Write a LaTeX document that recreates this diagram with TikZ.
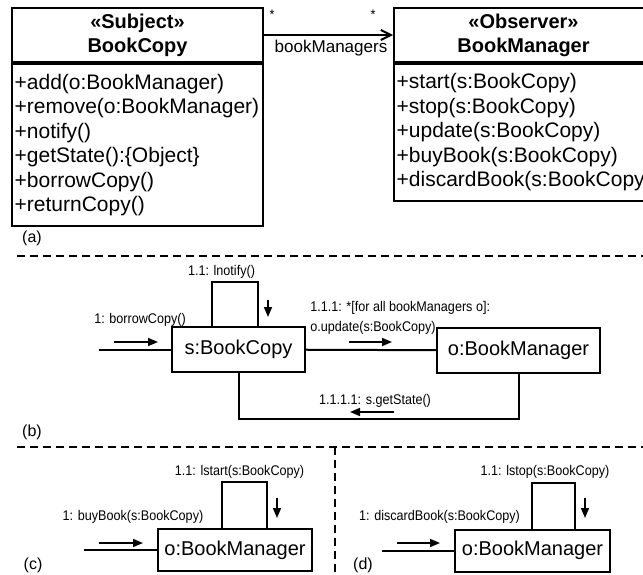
\documentclass[tikz,border=0pt]{standalone}
\usepackage{fontspec}
\setmainfont{Liberation Sans}
\newfontfamily\narrowfont[FakeStretch=0.9]{Liberation Sans}
\usetikzlibrary{arrows.meta}

\begin{document}
\begin{tikzpicture}[x=0.75pt,y=-0.75pt]
		\tikzset{classhead/.style = {draw, line width=1.5pt, anchor=north west, align=center, inner sep=0pt, minimum height=40.5pt, font=\fontsize{15}{18}\bfseries\selectfont},
			classbody/.style = {draw, line width=1.5pt, anchor=north west, align=left, inner xsep=2pt, inner ysep=0pt, font=\fontsize{15.75}{18.4}\selectfont},
			object/.style = {draw, line width=1.5pt, inner sep=0pt, font=\fontsize{15}{18}\selectfont},
			msg/.style = {inner sep=0pt, font=\fontsize{10.5}{15}\narrowfont},
			part/.style = {inner sep=0pt, font=\fontsize{12}{14}\selectfont},
			link/.style = {line width=1.5pt},
			flow/.style = {line width=1.2pt, -{Triangle[length=7.5pt, width=6pt]}},
			cut/.style = {line width=1.5pt, dash pattern=on 6pt off 3.75pt}}

		\useasboundingbox (0,0) rectangle (643,575);
		\clip (0,0) rectangle (643,575);

		% (a) class diagram
		\node[classhead, minimum width=188.25pt] (S_head) at (11,7) {«Subject»\\BookCopy};
		\node[classbody, minimum height=121.5pt, text width=184.25pt] (S_body) at (S_head.south west) {+add(o:BookManager)\\+remove(o:BookManager)\\+notify()\\+getState():\{Object\}\\+borrowCopy()\\+returnCopy()};
		\node[classhead, minimum width=194.25pt] (O_head) at (393,7) {«Observer»\\BookManager};
		\node[classbody, minimum height=102.75pt, text width=190.25pt] (O_body) at (O_head.south west) {+start(s:BookCopy)\\+stop(s:BookCopy)\\+update(s:BookCopy)\\+buyBook(s:BookCopy)\\+discardBook(s:BookCopy)};

		\draw[link, -{Straight Barb[length=7.5pt, width=7.5pt]}] (S_head.east) -- (O_head.west);
		\node[msg] (M_1) at (272,15) {*};
		\node[msg] (M_2) at (373,15) {*};
		\node[inner sep=0pt, font=\fontsize{12.8}{14}\selectfont] (R) at (331,48) {bookManagers};

		\node[part] (P_a) at (32,238) {(a)};
		\draw[cut] (17,256) -- (643,256);

		% (b) notify
		\node[object, minimum width=99.75pt, minimum height=33.75pt] (B_1) at (238.5,349.5) {s:BookCopy};
		\node[object, minimum width=122.25pt, minimum height=33.75pt] (B_2) at (518.5,350.5) {o:BookManager};
		\coordinate (B_in) at (99,349.5);

		\draw[link] (B_in) -- (B_1);
		\draw[link] (B_1) -- (B_2);
		\draw[link] ([xshift=-19.9pt]B_1.north) -- ++(0,-44) -| ([xshift=14.6pt]B_1.north);
		\draw[link] (B_1.south) -- ++(0,46) -| (B_2.south);

		\node[msg] (L_1) at (140,320) {1: borrowCopy()};
		\node[msg] (L_2) at (221.5,272) {1.1: lnotify()};
		\node[msg, anchor=west, align=left] (L_3) at (310,318) {1.1.1: *[for all bookManagers o]:\\o.update(s:BookCopy)};
		\node[msg] (L_4) at (375,401) {1.1.1.1: s.getState()};
		\draw[flow] (114,342) -- ++(44,0);
		\draw[flow] (268,300) -- ++(0,17);
		\draw[flow] (349,342) -- ++(43,0);
		\draw[flow] (394,412) -- ++(-44,0);

		\node[part] (P_b) at (32,432) {(b)};
		\draw[cut] (17,447) -- (643,447);
		\draw[cut] (335,447) -- (335,575);

		% (c) start
		\node[object, minimum width=115.5pt, minimum height=31.5pt] (C_1) at (235,550) {o:BookManager};
		\coordinate (C_in) at (84,550);
		\draw[link] (C_in) -- (C_1);
		\draw[link] ([xshift=-9.75pt]C_1.north) -- ++(0,-46) -| ([xshift=24pt]C_1.north);
		\node[msg] (L_5) at (239.5,472) {1.1: lstart(s:BookCopy)};
		\node[msg] (L_6) at (133,517) {1: buyBook(s:BookCopy)};
		\draw[flow] (99,543) -- ++(44,0);
		\draw[flow] (277,498) -- ++(0,20);
		\node[part] (P_c) at (33,565) {(c)};

		% (d) stop
		\node[object, minimum width=116.25pt, minimum height=31.5pt] (D_1) at (532.5,550.5) {o:BookManager};
		\coordinate (D_in) at (382,550.5);
		\draw[link] (D_in) -- (D_1);
		\draw[link] ([xshift=-0.4pt]D_1.north) -- ++(0,-46) -| ([xshift=31.9pt]D_1.north);
		\node[msg] (L_7) at (545,472) {1.1: lstop(s:BookCopy)};
		\node[msg] (L_8) at (439.5,517) {1: discardBook(s:BookCopy)};
		\draw[flow] (397,543) -- ++(43,0);
		\draw[flow] (585,498) -- ++(0,20);
		\node[part] (P_d) at (363,565) {(d)};

	\end{tikzpicture}
\end{document}
